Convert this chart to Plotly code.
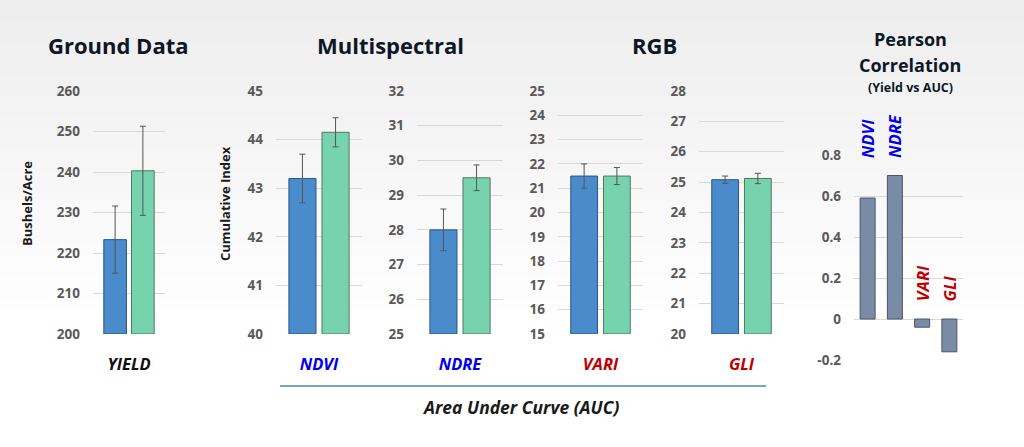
import plotly.graph_objects as go

W, H = 1024, 447

# ---------------- data ----------------
panel_cats = ["YIELD", "NDVI", "NDRE", "VARI", "GLI"]
blue_vals = [223.3, 43.2, 28.0, 21.5, 25.08]
blue_err = [8.3, 0.5, 0.6, 0.5, 0.12]
green_vals = [240.3, 44.15, 29.5, 21.5, 25.12]
green_err = [11.0, 0.3, 0.37, 0.35, 0.17]
y_ranges = [(200, 260), (40, 45), (25, 32), (15, 25), (20, 28)]
y_dticks = [10, 1, 1, 1, 1]
cat_colors = ["#111111", "#0000ee", "#0000ee", "#c00000", "#c00000"]

pearson_cats = ["NDVI", "NDRE", "VARI", "GLI"]
pearson_vals = [0.59, 0.70, -0.04, -0.16]
pearson_colors = ["#0000ee", "#0000ee", "#c00000", "#c00000"]
pearson_ticks = [-0.2, 0, 0.2, 0.4, 0.6, 0.8]
pearson_ticktext = ["-0.2", "0", "0.2", "0.4", "0.6", "0.8"]

titles = ["Ground Data", "Multispectral", "RGB"]

# ---------------- layout helpers ----------------
def px_x(x):
    return x / W

def px_y(y):
    return (H - y) / H

x_spans = [(93, 165), (276, 362), (417, 503), (558, 643), (699, 784)]
y_span = (91, 334)
pearson_x = (854, 963)
pearson_y = (155, 360)

fig = go.Figure()

tick_font = dict(family="Open Sans", size=13.5, color="#595959", weight="bold")
bw = 0.315
for i, cat in enumerate(panel_cats):
    ax = "" if i == 0 else str(i + 1)
    fig.add_trace(go.Bar(
        x=[cat], y=[blue_vals[i] - y_ranges[i][0]], base=[y_ranges[i][0]],
        width=bw, offset=-0.35,
        marker=dict(color="#4a8bcb", line=dict(color="#2f5684", width=1)),
        error_y=dict(type="data", array=[blue_err[i]], color="#555555", thickness=1, width=3),
        xaxis="x" + ax, yaxis="y" + ax, showlegend=False, hoverinfo="skip"))
    fig.add_trace(go.Bar(
        x=[cat], y=[green_vals[i] - y_ranges[i][0]], base=[y_ranges[i][0]],
        width=bw, offset=0.035,
        marker=dict(color="#76d3ae", line=dict(color="#4f7a60", width=1)),
        error_y=dict(type="data", array=[green_err[i]], color="#555555", thickness=1, width=3),
        xaxis="x" + ax, yaxis="y" + ax, showlegend=False, hoverinfo="skip"))
    lo, hi = y_ranges[i]
    fig.update_layout(**{
        "xaxis" + ax: dict(
            domain=[px_x(x_spans[i][0]), px_x(x_spans[i][1])],
            anchor="y" + ax, range=[-0.5, 0.5], showgrid=False, zeroline=False,
            showline=False, ticks="", ticklabelstandoff=18, automargin=False,
            tickfont=dict(family="Open Sans", size=16.5, color=cat_colors[i],
                          weight="bold", style="italic"),
            fixedrange=True),
        "yaxis" + ax: dict(
            domain=[px_y(y_span[1]), px_y(y_span[0])],
            anchor="x" + ax, range=[lo, hi], dtick=y_dticks[i], tick0=lo,
            showgrid=True, gridcolor="#d9d9d9", gridwidth=1, zeroline=False,
            showline=False, ticks="", ticklabelstandoff=12, tickfont=tick_font,
            automargin=False, fixedrange=True),
    })

# Pearson panel
fig.add_trace(go.Bar(
    x=pearson_cats, y=pearson_vals, width=0.55,
    marker=dict(color="#7a8ba5", line=dict(color="#4a5568", width=1)),
    xaxis="x6", yaxis="y6", showlegend=False, hoverinfo="skip"))
fig.update_layout(
    xaxis6=dict(domain=[px_x(pearson_x[0]), px_x(pearson_x[1])], anchor="y6",
                range=[-0.5, 3.5], showgrid=False, zeroline=False, showline=False,
                showticklabels=False, ticks="", automargin=False, fixedrange=True),
    yaxis6=dict(domain=[px_y(pearson_y[1]), px_y(pearson_y[0])], anchor="x6",
                range=[-0.2, 0.8], tickvals=pearson_ticks, ticktext=pearson_ticktext,
                showgrid=True, gridcolor="#d9d9d9", zeroline=False, showline=False,
                ticks="", ticklabelstandoff=12, tickfont=tick_font, automargin=False,
                fixedrange=True),
)

annotations = []
# titles
title_font = dict(family="Open Sans", size=22, color="#0d1726", weight="bold")
for t, cx in zip(titles, [118, 390, 654]):
    annotations.append(dict(text=t, x=px_x(cx), y=px_y(45), xref="paper", yref="paper",
                            showarrow=False, font=title_font, xanchor="center", yanchor="middle"))
annotations.append(dict(text="Pearson", x=px_x(910), y=px_y(39), xref="paper",
                        yref="paper", showarrow=False, font=dict(family="Open Sans", size=18,
                        color="#0d1726", weight="bold"), xanchor="center", yanchor="middle"))
annotations.append(dict(text="Correlation", x=px_x(910), y=px_y(65), xref="paper",
                        yref="paper", showarrow=False, font=dict(family="Open Sans", size=18,
                        color="#0d1726", weight="bold"), xanchor="center", yanchor="middle"))
annotations.append(dict(text="(Yield vs AUC)", x=px_x(910), y=px_y(88), xref="paper",
                        yref="paper", showarrow=False, font=dict(family="Open Sans", size=12.5,
                        color="#0d1726", weight="bold"), xanchor="center", yanchor="middle"))
# axis titles
annotations.append(dict(text="Bushels/Acre", x=px_x(27), y=px_y(204), xref="paper", yref="paper",
                        showarrow=False, textangle=-90, font=dict(family="Open Sans", size=13,
                        color="#1a1a1a", weight="bold"), xanchor="center", yanchor="middle"))
annotations.append(dict(text="Cumulative Index", x=px_x(225), y=px_y(204), xref="paper", yref="paper",
                        showarrow=False, textangle=-90, font=dict(family="Open Sans", size=13,
                        color="#1a1a1a", weight="bold"), xanchor="center", yanchor="middle"))
annotations.append(dict(text="Area Under Curve (AUC)", x=px_x(520), y=px_y(407), xref="paper",
                        yref="paper", showarrow=False, font=dict(family="Open Sans", size=17.5,
                        color="#1a1a1a", weight="bold", style="italic"),
                        xanchor="center", yanchor="middle"))
# Pearson category labels (rotated)
label_bottom = [160, 160, 303, 303]
for c, col, yb in zip(pearson_cats, pearson_colors, label_bottom):
    annotations.append(dict(text=c, x=c, xref="x6", y=px_y(yb), yref="paper", showarrow=False,
                            textangle=-90, font=dict(family="Open Sans", size=16.5, color=col,
                            weight="bold", style="italic"),
                            xanchor="center", yanchor="bottom"))

# background gradient bands + AUC line
shapes = []
n = 30
for k in range(n):
    y0 = k * 320 / n
    y1 = (k + 1) * 320 / n
    v = int(238 + (255 - 238) * (k / (n - 1)))
    shapes.append(dict(type="rect", xref="paper", yref="paper", x0=0, x1=1,
                       y0=px_y(y1 + 0.5), y1=px_y(y0), fillcolor=f"rgb({v},{v},{v})",
                       line=dict(width=0), layer="below"))
shapes.append(dict(type="line", xref="paper", yref="paper", x0=px_x(280), x1=px_x(766),
                   y0=px_y(386), y1=px_y(386), line=dict(color="#4a8aa8", width=1.5)))

fig.update_layout(
    width=W, height=H, margin=dict(l=0, r=0, t=0, b=0, pad=0),
    paper_bgcolor="#ffffff", plot_bgcolor="rgba(0,0,0,0)",
    barmode="overlay", annotations=annotations, shapes=shapes,
    font=dict(family="Open Sans"), template="none",
)

fig.write_html("out.html", config={"displayModeBar": False},
               post_script="document.body.style.margin='0';")
